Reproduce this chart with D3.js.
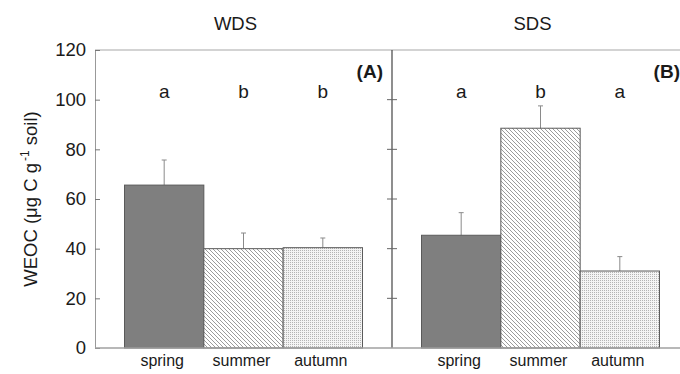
<!DOCTYPE html>
<html>
<head>
<meta charset="utf-8">
<script src="https://cdn.jsdelivr.net/npm/d3@7"></script>
<style>
  html, body { margin: 0; padding: 0; background: #fff; }
  svg { display: block; }
  text { font-family: "Liberation Sans", Arial, sans-serif; fill: #1a1a1a; }
</style>
</head>
<body>
<svg id="chart" width="680" height="374"></svg>
<script>
// Water-extractable organic carbon by season, two sites
const seasons = ["spring", "summer", "autumn"];
const wdsMean = [65.6, 40.0, 40.4];
const wdsErr  = [10.1, 6.3, 3.9];
const wdsLetters = ["a", "b", "b"];
const sdsMean = [45.4, 88.5, 31.0];
const sdsErr  = [9.1, 9.0, 5.8];
const sdsLetters = ["a", "b", "a"];
const panelTitles = ["WDS", "SDS"];
const panelTags = ["(A)", "(B)"];
const yTicks = [0, 20, 40, 60, 80, 100, 120];

const svg = d3.select("#chart");
const plotTop = 50, plotBottom = 348, plotLeft = 95, panelW = 297;

const y = d3.scaleLinear().domain([0, 120]).range([plotBottom, plotTop]);

// fill patterns for the three seasons
const defs = svg.append("defs");
const hatch = defs.append("pattern")
  .attr("id", "hatch").attr("patternUnits", "userSpaceOnUse")
  .attr("width", 4).attr("height", 4);
hatch.append("rect").attr("width", 4).attr("height", 4).attr("fill", "#fff");
hatch.append("path")
  .attr("d", "M-1,-1 L5,5 M-1,3 L1,5 M3,-1 L5,1")
  .attr("stroke", "#707070").attr("stroke-width", 0.7);

const dots = defs.append("pattern")
  .attr("id", "dots").attr("patternUnits", "userSpaceOnUse")
  .attr("width", 2).attr("height", 2);
dots.append("rect").attr("width", 2).attr("height", 2).attr("fill", "#f4f4f4");
dots.append("rect").attr("width", 1).attr("height", 1).attr("fill", "#b4b4b4");

const fills = { spring: "#7f7f7f", summer: "url(#hatch)", autumn: "url(#dots)" };

const panels = [
  { mean: wdsMean, err: wdsErr, letters: wdsLetters, title: panelTitles[0], tag: panelTags[0] },
  { mean: sdsMean, err: sdsErr, letters: sdsLetters, title: panelTitles[1], tag: panelTags[1] }
];

// frame lines
svg.append("line").attr("x1", plotLeft).attr("x2", 680).attr("y1", plotTop).attr("y2", plotTop)
  .attr("stroke", "#a8a8a8").attr("stroke-width", 1.2);

panels.forEach((p, i) => {
  const x0 = plotLeft + i * panelW;
  const x = d3.scaleBand().domain(seasons).range([x0, x0 + panelW])
    .paddingInner(0).paddingOuter(0.372);
  const g = svg.append("g");
  const rows = seasons.map((s, k) => ({ s, v: p.mean[k], e: p.err[k], l: p.letters[k] }));

  // error bars
  g.selectAll(".err").data(rows).join("line")
    .attr("x1", d => x(d.s) + x.bandwidth() / 2).attr("x2", d => x(d.s) + x.bandwidth() / 2)
    .attr("y1", d => y(d.v)).attr("y2", d => y(d.v + d.e))
    .attr("stroke", "#8a8a8a").attr("stroke-width", 1);
  g.selectAll(".cap").data(rows).join("line")
    .attr("x1", d => x(d.s) + x.bandwidth() / 2 - 2.5).attr("x2", d => x(d.s) + x.bandwidth() / 2 + 2.5)
    .attr("y1", d => y(d.v + d.e)).attr("y2", d => y(d.v + d.e))
    .attr("stroke", "#8a8a8a").attr("stroke-width", 1);

  // bars
  g.selectAll(".bar").data(rows).join("rect")
    .attr("x", d => x(d.s)).attr("width", x.bandwidth())
    .attr("y", d => y(d.v)).attr("height", d => y(0) - y(d.v))
    .attr("fill", d => fills[d.s])
    .attr("stroke", "#5a5a5a").attr("stroke-width", 1);

  // significance letters
  g.selectAll(".letter").data(rows).join("text")
    .attr("x", d => x(d.s) + x.bandwidth() / 2).attr("y", 98)
    .attr("text-anchor", "middle").attr("font-size", 19)
    .text(d => d.l);

  // category labels
  g.selectAll(".cat").data(rows).join("text")
    .attr("x", d => x(d.s) + x.bandwidth() / 2 - 2).attr("y", 366)
    .attr("text-anchor", "middle").attr("font-size", 16)
    .text(d => d.s);

  // panel title and tag
  g.append("text").attr("x", x0 + panelW / 2 - 8).attr("y", 30)
    .attr("text-anchor", "middle").attr("font-size", 18.5).text(p.title);
  g.append("text").attr("x", x0 + panelW - 9).attr("y", 78)
    .attr("text-anchor", "end").attr("font-size", 19).attr("font-weight", "bold").text(p.tag);
});

// left axis
const yAxis = d3.axisLeft(y).tickValues(yTicks).tickSize(-5).tickPadding(9);
const ax = svg.append("g").attr("transform", `translate(${plotLeft},0)`).call(yAxis);
ax.select(".domain").attr("stroke", "#999");
ax.selectAll(".tick line").attr("stroke", "#777");
ax.selectAll(".tick text").attr("font-size", 18.5).attr("font-family", "Liberation Sans, Arial, sans-serif").attr("fill", "#1a1a1a");

// divider between panels, ticks on both sides
const div = svg.append("g").attr("transform", `translate(${plotLeft + panelW},0)`);
div.append("line").attr("y1", plotTop).attr("y2", plotBottom).attr("stroke", "#444").attr("stroke-width", 1.2);
div.selectAll(".dt").data(yTicks.slice(1, -1)).join("line")
  .attr("x1", -5).attr("x2", 5).attr("y1", d => y(d)).attr("y2", d => y(d))
  .attr("stroke", "#666");

// baseline
svg.append("line").attr("x1", plotLeft).attr("x2", 680).attr("y1", plotBottom).attr("y2", plotBottom)
  .attr("stroke", "#a0a0a0").attr("stroke-width", 1.5);

// y-axis title
const yt = svg.append("text")
  .attr("transform", `translate(37,${(plotTop + plotBottom) / 2}) rotate(-90)`)
  .attr("text-anchor", "middle").attr("font-size", 18.5);
yt.append("tspan").text("WEOC (μg C g");
yt.append("tspan").attr("font-size", 12).attr("dx", 2).attr("dy", -8).text("-1");
yt.append("tspan").attr("dy", 8).text("  soil)");
</script>
</body>
</html>
